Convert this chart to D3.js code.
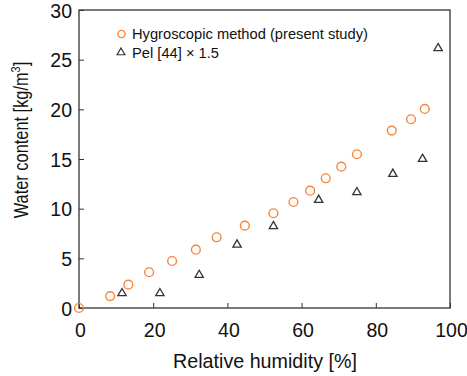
<!DOCTYPE html>
<html>
<head>
<meta charset="utf-8">
<script src="https://cdn.jsdelivr.net/npm/d3@7"></script>
<style>
  body { margin: 0; background: #fff; }
  svg text { font-family: "Liberation Sans", Arial, sans-serif; fill: #111; }
</style>
</head>
<body>
<svg id="chart" width="467" height="376"></svg>
<script>
// Hygroscopic method (present study)
var hygroRH = [0, 8.4, 13.3, 18.9, 25.1, 31.5, 37.1, 44.7, 52.4, 57.8, 62.3, 66.5, 70.7, 74.9, 84.3, 89.5, 93.2];
var hygroW  = [0, 1.2, 2.35, 3.6, 4.73, 5.87, 7.12, 8.29, 9.54, 10.67, 11.81, 13.06, 14.23, 15.48, 17.86, 19.0, 20.04];
// Pel [44] x 1.5
var pelRH = [11.6, 21.8, 32.4, 42.6, 52.4, 64.6, 74.9, 84.6, 92.6, 96.8];
var pelW  = [1.48, 1.48, 3.32, 6.37, 8.23, 10.88, 11.65, 13.5, 15.0, 26.15];
var xTicks = [0, 20, 40, 60, 80, 100];
var yTicks = [0, 5, 10, 15, 20, 25, 30];

(function(){
    var orange = '#f7863a', dark = '#333';
    var svg = d3.select('#chart');
    var plotL = 79, plotR = 450, plotT = 10, plotB = 308;

    var x = d3.scaleLinear().domain([0, 100]).range([plotL, plotR]);
    var y = d3.scaleLinear().domain([0, 30]).range([plotB, plotT]);

    // inward ticks
    svg.append('g')
        .attr('transform', 'translate(0,' + plotB + ')')
        .call(d3.axisTop(x).tickValues(xTicks).tickSize(5).tickFormat(''))
        .call(function(g){ g.select('.domain').remove(); g.selectAll('line').attr('stroke', dark); });
    svg.append('g')
        .attr('transform', 'translate(' + plotL + ',0)')
        .call(d3.axisRight(y).tickValues(yTicks).tickSize(5).tickFormat(''))
        .call(function(g){ g.select('.domain').remove(); g.selectAll('line').attr('stroke', dark); });

    svg.append('rect')
        .attr('x', plotL).attr('y', plotT)
        .attr('width', plotR - plotL).attr('height', plotB - plotT)
        .attr('fill', 'none').attr('stroke', dark).attr('stroke-width', 1.3);

    // tick labels
    svg.append('g').selectAll('text').data(xTicks).join('text')
        .attr('x', function(d){ return x(d) + 1.5; }).attr('y', 337)
        .attr('text-anchor', 'middle').attr('font-size', 19.5)
        .text(function(d){ return d; });
    svg.append('g').selectAll('text').data(yTicks).join('text')
        .attr('x', 72).attr('y', function(d){ return y(d) + 7.5; })
        .attr('text-anchor', 'end').attr('font-size', 19.5)
        .text(function(d){ return d; });

    // axis titles
    svg.append('text')
        .attr('x', 265).attr('y', 368)
        .attr('text-anchor', 'middle').attr('font-size', 19.7)
        .text('Relative humidity [%]');
    // the y title is a bit squeezed along its length in the original
    var yt = svg.append('text')
        .attr('transform', 'translate(28,140) rotate(-90) scale(0.84,1)')
        .attr('text-anchor', 'middle').attr('font-size', 19.5);
    yt.append('tspan').text('Water content [kg/m');
    yt.append('tspan').attr('font-size', 13).attr('dy', -8).text('3');
    yt.append('tspan').attr('dy', 8).text(']');

    // points
    var tri = d3.symbol(d3.symbolTriangle, 30);
    svg.append('g').selectAll('path').data(d3.zip(pelRH, pelW)).join('path')
        .attr('d', tri)
        .attr('transform', function(d){ return 'translate(' + x(d[0]) + ',' + y(d[1]) + ')'; })
        .attr('fill', 'none').attr('stroke', dark).attr('stroke-width', 1.3);
    svg.append('g').selectAll('circle').data(d3.zip(hygroRH, hygroW)).join('circle')
        .attr('cx', function(d){ return x(d[0]); })
        .attr('cy', function(d){ return y(d[1]); })
        .attr('r', 4.4)
        .attr('fill', 'none').attr('stroke', orange).attr('stroke-width', 1.4);

    // legend
    var lg = svg.append('g');
    lg.append('circle').attr('cx', 121.5).attr('cy', 34).attr('r', 3.6)
        .attr('fill', 'none').attr('stroke', orange).attr('stroke-width', 1.4);
    lg.append('text').attr('x', 132).attr('y', 39).attr('font-size', 14.7)
        .text('Hygroscopic method (present study)');
    lg.append('path').attr('d', d3.symbol(d3.symbolTriangle, 26))
        .attr('transform', 'translate(121,52.5)')
        .attr('fill', 'none').attr('stroke', dark).attr('stroke-width', 1.2);
    lg.append('text').attr('x', 132).attr('y', 57.5).attr('font-size', 14.7)
        .text('Pel [44] × 1.5');
})();
</script>
</body>
</html>
